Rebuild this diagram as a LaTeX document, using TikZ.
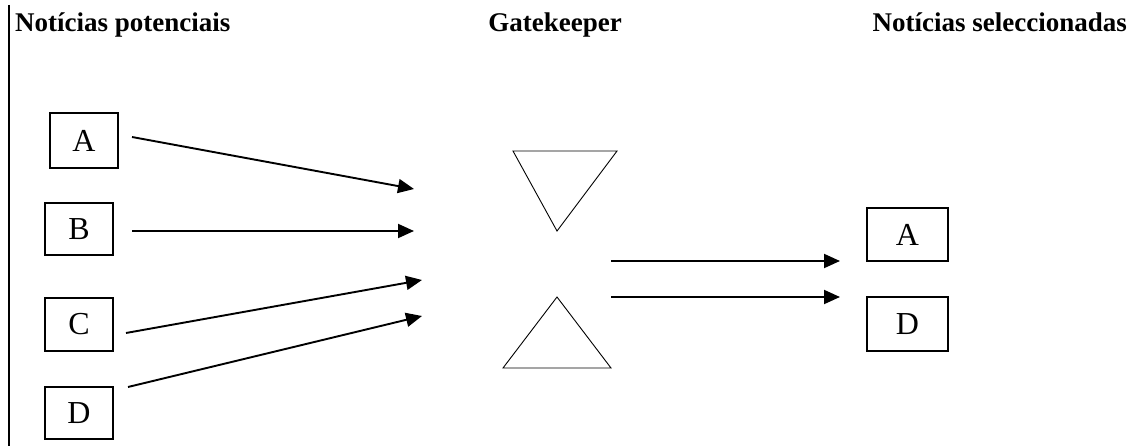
\documentclass[tikz,border=0pt]{standalone}
\usepackage{fontspec}
\setmainfont{Liberation Serif}
\usetikzlibrary{arrows.meta}
\begin{document}
\begin{tikzpicture}[x=1pt,y=-1pt,
  title/.style={font=\fontsize{27}{30}\selectfont\bfseries, inner sep=0pt},
  newsbox/.style={draw, line width=1.1pt, font=\fontsize{32}{34}\selectfont, inner sep=0pt},
  flow/.style={line width=1.9pt, -{Triangle[length=16pt,width=14pt]}},
  gate/.style={draw, line width=0.9pt, line join=miter}]
\useasboundingbox (0,0) rectangle (1130,446);
\draw[line width=2.5pt] (9,5) coordinate (top) -- (9,446) coordinate (bot);
\node[title, anchor=base west] (t1) at (15,32) {Notícias potenciais};
\node[title, anchor=base] (t2) at (555,32) {Gatekeeper};
\node[title, anchor=base east] (t3) at (1127,32) {Notícias seleccionadas};
% left boxes
\node[newsbox, minimum width=68pt, minimum height=55pt] (A) at (84,140.5) {A};
\node[newsbox, minimum width=68pt, minimum height=52pt] (B) at (79,229) {B};
\node[newsbox, minimum width=68pt, minimum height=53pt] (C) at (79,324.5) {C};
\node[newsbox, minimum width=68pt, minimum height=52pt] (D) at (79,413) {D};
% right boxes
\node[newsbox, minimum width=81pt, minimum height=53pt] (A2) at (907.5,234.5) {A};
\node[newsbox, minimum width=81pt, minimum height=54pt] (D2) at (907.5,324) {D};
% arrow ends
\coordinate (ea) at (414,189);
\coordinate (eb) at (414,231);
\coordinate (ec) at (422,280);
\coordinate (ed) at (422,316);
\coordinate (sa) at (132,137);
\coordinate (sb) at (132,231);
\coordinate (sc) at (126,333);
\coordinate (sd) at (128,387);
\draw[flow] (sa) -- (ea);
\draw[flow] (sb) -- (eb);
\draw[flow] (sc) -- (ec);
\draw[flow] (sd) -- (ed);
% gatekeeper triangles
\draw[gate] (513,151) coordinate (g1) -- (617,151) coordinate (g2) -- (557,231) coordinate (g3) -- cycle;
\draw[gate] (557,297) coordinate (h1) -- (611,368) coordinate (h2) -- (503,368) coordinate (h3) -- cycle;
% outgoing
\coordinate (o1) at (611,261);
\coordinate (o2) at (611,297);
\coordinate (p1) at (840,261);
\coordinate (p2) at (840,297);
\draw[flow] (o1) -- (p1);
\draw[flow] (o2) -- (p2);
\end{tikzpicture}
\end{document}
